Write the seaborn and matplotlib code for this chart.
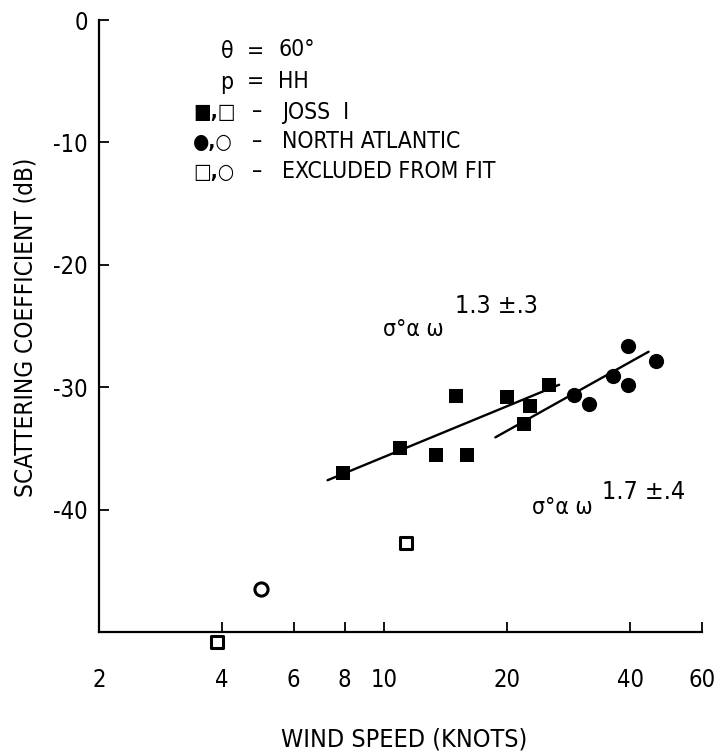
import matplotlib
matplotlib.use("Agg")
import matplotlib.pyplot as plt
import seaborn as sns
import numpy as np
import pandas as pd

# ---- data ----
joss_speed = [7.9, 10.9, 13.4, 15.9, 15.0, 20.0, 22.8, 25.3, 22.0]
joss_sigma = [-37.0, -35.0, -35.5, -35.5, -30.7, -30.8, -31.5, -29.8, -33.0]

natl_speed = [29.1, 31.7, 36.3, 39.5, 39.5, 46.3]
natl_sigma = [-30.6, -31.4, -29.1, -26.6, -29.8, -27.9]

excl_sq_speed = [3.9, 11.3]
excl_sq_sigma = [-50.8, -42.75]
excl_ci_speed = [5.0]
excl_ci_sigma = [-46.5]

fit1_speed = [7.26, 26.8]
fit1_sigma = [-37.6, -29.8]
fit2_speed = [18.7, 44.4]
fit2_sigma = [-34.1, -27.1]

x_ticks = [2, 4, 6, 8, 10, 20, 40, 60]
x_ticklabels = ["2", "4", "6", "8", "10", "20", "40", "60"]
y_ticks = [0, -10, -20, -30, -40]
y_ticklabels = ["0", "-10", "-20", "-30", "-40"]

sns.set_style("ticks")
FAM = ["Liberation Sans Narrow", "DejaVu Sans Condensed", "DejaVu Sans"]
plt.rcParams["font.family"] = FAM
plt.rcParams["font.stretch"] = "condensed"
for k in ["text.color", "axes.labelcolor", "xtick.color", "ytick.color", "axes.edgecolor"]:
    plt.rcParams[k] = "black"

W, H = 720, 755
fig = plt.figure(figsize=(W / 100, H / 100), dpi=100)
L, R, T, B = 99, 702, 20, 632
ax = fig.add_axes([L / W, 1 - B / H, (R - L) / W, (B - T) / H])

fits = pd.DataFrame({
    "speed": fit1_speed + fit2_speed,
    "sigma": fit1_sigma + fit2_sigma,
    "fit": ["a"] * len(fit1_speed) + ["b"] * len(fit2_speed),
})
sns.lineplot(data=fits, x="speed", y="sigma", units="fit", estimator=None,
             color="black", lw=1.7, ax=ax, legend=False)

sns.scatterplot(x=joss_speed, y=joss_sigma, marker="s", s=110, color="black",
                edgecolor="black", linewidth=0, ax=ax)
sns.scatterplot(x=natl_speed, y=natl_sigma, marker="o", s=120, color="black",
                edgecolor="black", linewidth=0, ax=ax)
sns.scatterplot(x=excl_sq_speed, y=excl_sq_sigma, marker="s", s=80,
                facecolor="white", edgecolor="black", linewidth=2.2, ax=ax)
sns.scatterplot(x=excl_ci_speed, y=excl_ci_sigma, marker="o", s=90,
                facecolor="white", edgecolor="black", linewidth=2.2, ax=ax)
for c in ax.collections:
    c.set_clip_on(False)

ax.set_xscale("log")
ax.set_xlim(2, 60)
ax.set_ylim(-50, 0)
ax.set_xticks(x_ticks)
ax.set_xticklabels(x_ticklabels)
ax.minorticks_off()
ax.set_yticks(y_ticks)
ax.set_yticklabels(y_ticklabels)
ax.set_xlabel("")
ax.set_ylabel("")
ax.tick_params(axis="x", direction="in", length=7, width=1.3, pad=26, labelsize=17)
ax.tick_params(axis="y", direction="in", length=7, width=1.3, pad=8, labelsize=17)
for lab in ax.get_xticklabels() + ax.get_yticklabels():
    lab.set_family(FAM)
sns.despine(ax=ax)
ax.spines["left"].set_linewidth(1.6)
ax.spines["bottom"].set_linewidth(1.6)
ax.set_facecolor("white")


def ftext(x, y, s, size=16.5, **kw):
    fig.text(x / W, 1 - y / H, s, fontsize=size, family=FAM, va="center",
             color="black", **kw)


# axis labels
ftext(26, 327, "SCATTERING COEFFICIENT (dB)", size=17.5, rotation=90, ha="center")
ftext(404, 740, "WIND SPEED (KNOTS)", size=18, ha="center")

# key block
ftext(227, 52, "θ", ha="center")
ftext(255, 52, "=", ha="center")
ftext(278, 50, "60°", ha="left")
ftext(227, 82, "p", ha="center")
ftext(255, 82, "=", ha="center")
ftext(278, 82, "HH", ha="left")
rows = [("■,□", "JOSS  I", 112), ("●,○", "NORTH ATLANTIC", 142), ("□,○", "EXCLUDED FROM FIT", 172)]
for sym, lab, yy in rows:
    fig.text(193 / W, 1 - yy / H, sym, fontsize=15, family=["DejaVu Sans"],
             va="center", ha="left", color="black", fontweight="bold")
    ftext(257, yy, "–", ha="center")
    ftext(282, yy, lab, ha="left")

# fit annotations
ftext(383, 330, "σ°α ω", size=16.5, ha="left")
ftext(455, 306, "1.3 ±.3", size=18, ha="left")
ftext(532, 508, "σ°α ω", size=16.5, ha="left")
ftext(602, 492, "1.7 ±.4", size=18, ha="left")

fig.savefig("out.png", dpi=100, facecolor="white")
